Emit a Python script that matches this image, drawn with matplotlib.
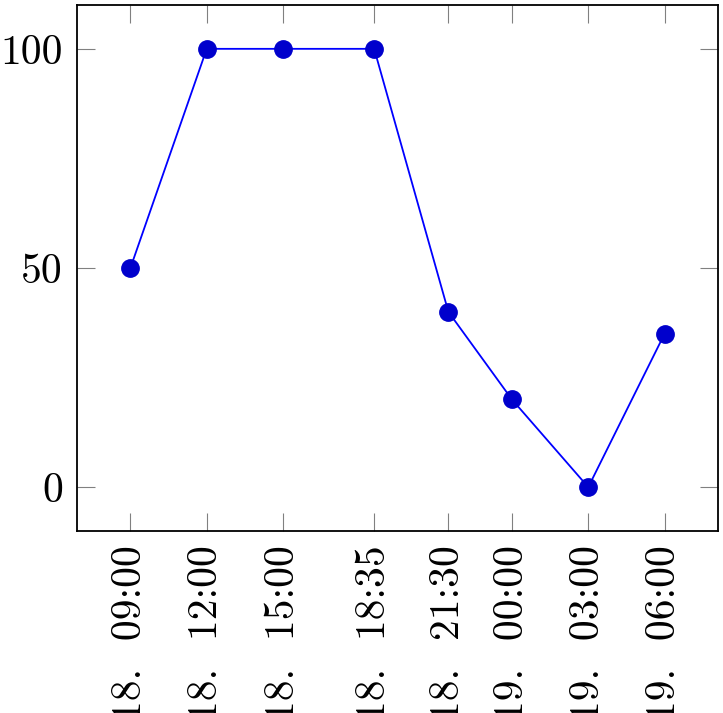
import datetime as dt
import matplotlib
matplotlib.use("Agg")
import matplotlib.pyplot as plt
import matplotlib.dates as mdates

times = ["2024-03-18 09:00", "2024-03-18 12:00", "2024-03-18 15:00", "2024-03-18 18:35",
         "2024-03-18 21:30", "2024-03-19 00:00", "2024-03-19 03:00", "2024-03-19 06:00"]
values = [50, 100, 100, 100, 40, 20, 0, 35]
yticks = [0, 50, 100]

x = [dt.datetime.strptime(t, "%Y-%m-%d %H:%M") for t in times]

plt.rcParams['font.family'] = ['cmr10', 'DejaVu Serif']
plt.rcParams['axes.unicode_minus'] = False
plt.rcParams['font.size'] = 30

fig = plt.figure(figsize=(7.23, 7.13), dpi=100)
ax = fig.add_axes([77 / 723, 1 - 531 / 713, 641 / 723, 526 / 713])

ax.plot(x, values, color=(0, 0, 1), linewidth=1.3, marker='o', markersize=12.5,
        markerfacecolor=(0, 0, 0.8), markeredgecolor=(0, 0, 0.8), clip_on=False)

# pgfplots-style enlarged limits (10% each side)
xn = mdates.date2num(x)
span = xn[-1] - xn[0]
ax.set_xlim(xn[0] - 0.1 * span, xn[-1] + 0.1 * span)
ax.set_ylim(-10, 110)

ax.set_xticks(x)
ax.set_xticklabels([d.strftime("%d.  %H:%M") for d in x], rotation=90)
ax.set_yticks(yticks)

ax.tick_params(direction='in', length=13, width=0.8, color='#808080',
               top=True, right=True, pad=10)
ax.tick_params(axis='x', pad=10)
for s in ax.spines.values():
    s.set_linewidth(1.3)

fig.savefig("out.png", dpi=100)
